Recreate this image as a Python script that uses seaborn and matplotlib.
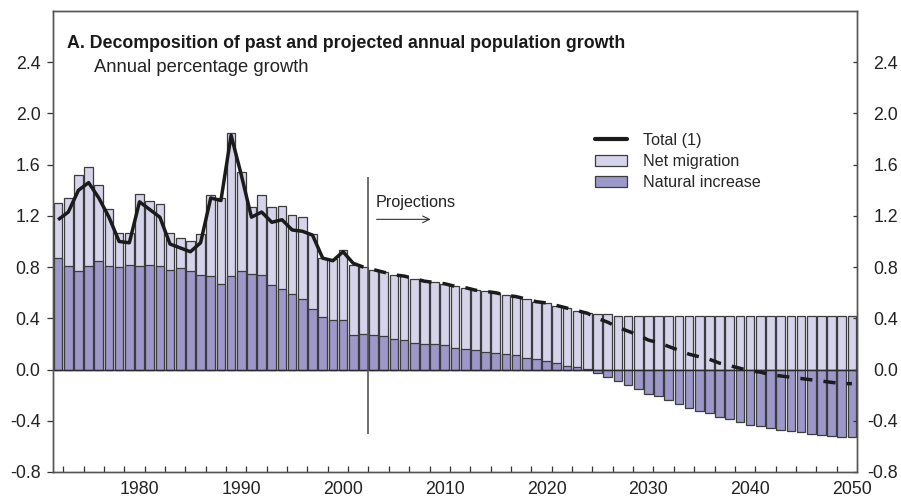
import numpy as np
import pandas as pd
import matplotlib
matplotlib.use("Agg")
import matplotlib.pyplot as plt
import seaborn as sns
from matplotlib.lines import Line2D
from matplotlib.patches import Patch

# ---- data -------------------------------------------------------------
years = list(range(1972, 2051))

natural_increase = [
    0.87, 0.81, 0.77, 0.81, 0.85, 0.81, 0.80, 0.82, 0.81, 0.82,      # 1972-1981
    0.81, 0.78, 0.79, 0.77, 0.74, 0.73, 0.67, 0.73, 0.77, 0.75,      # 1982-1991
    0.74, 0.66, 0.63, 0.59, 0.55, 0.47, 0.41, 0.39, 0.39, 0.27,      # 1992-2001
    0.28, 0.27, 0.26, 0.24, 0.23, 0.21, 0.20, 0.20, 0.19, 0.17,      # 2002-2011
    0.16, 0.15, 0.14, 0.13, 0.12, 0.11, 0.09, 0.08, 0.07, 0.05,      # 2012-2021
    0.03, 0.02, 0.005, -0.03, -0.06, -0.09, -0.12, -0.15, -0.19, -0.21,  # 2022-2031
    -0.24, -0.27, -0.30, -0.32, -0.34, -0.37, -0.39, -0.41, -0.43, -0.44,  # 2032-2041
    -0.46, -0.47, -0.48, -0.49, -0.50, -0.51, -0.52, -0.53, -0.53,        # 2042-2050
]

net_migration = [
    0.43, 0.53, 0.75, 0.77, 0.59, 0.44, 0.27, 0.25, 0.56, 0.50,      # 1972-1981
    0.48, 0.29, 0.24, 0.23, 0.32, 0.63, 0.67, 1.12, 0.77, 0.52,      # 1982-1991
    0.62, 0.61, 0.65, 0.62, 0.64, 0.59, 0.46, 0.47, 0.54, 0.55,      # 1992-2001
    0.52, 0.51, 0.50, 0.50, 0.50, 0.50, 0.49, 0.48, 0.48, 0.48,      # 2002-2011
    0.48, 0.47, 0.47, 0.47, 0.46, 0.46, 0.46, 0.45, 0.45, 0.45,      # 2012-2021
    0.45, 0.44, 0.435, 0.43, 0.43, 0.42, 0.42, 0.42, 0.42, 0.42,     # 2022-2031
    0.42, 0.42, 0.42, 0.42, 0.42, 0.42, 0.42, 0.42, 0.42, 0.42,      # 2032-2041
    0.42, 0.42, 0.42, 0.42, 0.42, 0.42, 0.42, 0.42, 0.42,            # 2042-2050
]

past_years = list(range(1972, 2003))
total_past = [
    1.17, 1.23, 1.40, 1.46, 1.34, 1.19, 1.00, 0.99, 1.31, 1.25,
    1.19, 0.98, 0.95, 0.92, 0.99, 1.34, 1.32, 1.83, 1.52, 1.19,
    1.23, 1.15, 1.17, 1.09, 1.08, 1.05, 0.87, 0.85, 0.92, 0.83,
    0.80,
]

projection_start = 2002
decade_ticks = [1980, 1990, 2000, 2010, 2020, 2030, 2040, 2050]
y_ticks = [-0.8, -0.4, 0.0, 0.4, 0.8, 1.2, 1.6, 2.0, 2.4]

title = "A. Decomposition of past and projected annual population growth"
subtitle = "Annual percentage growth"
legend_labels = ["Total (1)", "Net migration", "Natural increase"]

# ---- style ------------------------------------------------------------
LIGHT = "#d5d4ea"
DARK = "#9c98ca"
EDGE = "#3c3c3c"
LINE = "#1b1b1b"
SPINE = "#555555"
TEXT = "#222222"

sns.set_theme(style="white")
plt.rcParams["font.family"] = ["Liberation Sans", "DejaVu Sans"]
plt.rcParams["axes.unicode_minus"] = False

df = pd.DataFrame({"year": years,
                   "natural": natural_increase,
                   "migration": net_migration})
# light bar reaches the stacked top when natural increase is positive,
# otherwise it starts from zero and only shows migration
df["upper"] = np.where(df["natural"] > 0,
                       df["natural"] + df["migration"],
                       df["migration"])
df["total"] = df["natural"] + df["migration"]
proj = df[df["year"] >= projection_start]

fig = plt.figure(figsize=(9.01, 4.97), dpi=100)
ax = fig.add_axes([53 / 901, 25 / 497, 804 / 901, 461 / 497])

bar_kw = dict(native_scale=True, width=0.85, saturation=1, errorbar=None,
              edgecolor=EDGE, linewidth=0.9, ax=ax)
sns.barplot(data=df, x="year", y="upper", color=LIGHT, **bar_kw)
sns.barplot(data=df, x="year", y="natural", color=DARK, **bar_kw)

ax.axhline(0, color="#2a2a2a", lw=1.0, zorder=3)

sns.lineplot(x=past_years, y=total_past, color=LINE, lw=2.5, ax=ax,
             zorder=5, solid_joinstyle="round", solid_capstyle="butt")
sns.lineplot(x=proj["year"].tolist(), y=proj["total"].tolist(), color=LINE,
             lw=2.5, ax=ax, zorder=5, linestyle=(3.5, (3.5, 3.2)),
             dash_capstyle="butt")

# projection marker
ax.vlines(2002.5, -0.5, 1.5, color="#555555", lw=1.2, zorder=4)
ax.text(2003.2, 1.306, "Projections", ha="left", va="center",
        fontsize=11.6, color=TEXT)
ax.annotate("", xy=(2008.6, 1.173), xytext=(2003.3, 1.173),
            arrowprops=dict(arrowstyle="->", color="#333333", lw=0.8,
                            shrinkA=0, shrinkB=0))

# axes
ax.set_xlim(1971.5, 2050.5)
ax.set_ylim(-0.8, 2.8)
ax.set_xlabel("")
ax.set_ylabel("")
ax.set_xticks(decade_ticks)
ax.set_xticklabels([str(y) for y in decade_ticks])
ax.set_xticks(np.arange(1972.5, 2049, 2), minor=True)
ax.tick_params(axis="x", which="major", length=0, pad=6.5, labelsize=12.8,
               labelcolor=TEXT)
ax.tick_params(axis="x", which="minor", bottom=True, direction="in",
               length=4, width=0.9, color="#333333")

ylabels = [f"{v:.1f}" for v in y_ticks]
ax.set_yticks(y_ticks)
ax.set_yticklabels(ylabels)
ax.tick_params(axis="y", left=True, direction="out", length=4, width=0.9,
               color="#333333", pad=5, labelsize=12.8, labelcolor=TEXT)

ax2 = ax.twinx()
ax2.set_ylim(ax.get_ylim())
ax2.set_yticks(y_ticks)
ax2.set_yticklabels(ylabels, ha="right")
ax2.tick_params(axis="y", right=True, direction="in", length=3, width=0.9,
                color="#333333", pad=29.5, labelsize=12.8, labelcolor=TEXT)
ax2.grid(False)

for a in (ax, ax2):
    for s in a.spines.values():
        s.set_color(SPINE)
        s.set_linewidth(1.0)
        s.set_visible(True)

# titles
fig.text(67 / 901, 1 - 43 / 497, title, ha="left", va="center",
         fontsize=12.8, fontweight="bold", color="#1a1a1a")
fig.text(94 / 901, 1 - 67 / 497, subtitle, ha="left", va="center",
         fontsize=13.2, color=TEXT)

# legend
handles = [
    Line2D([0], [0], color=LINE, lw=3),
    Patch(facecolor=LIGHT, edgecolor=EDGE, linewidth=0.9),
    Patch(facecolor=DARK, edgecolor=EDGE, linewidth=0.9),
]
ax2.legend(handles, legend_labels, loc="upper left",
           bbox_to_anchor=(595 / 901, 1 - 133 / 497),
           bbox_transform=fig.transFigure, frameon=False, fontsize=11.6,
           handlelength=2.0, handleheight=0.72, handletextpad=0.95,
           labelspacing=0.38, borderpad=0, borderaxespad=0)

fig.savefig("out.png", dpi=100)
